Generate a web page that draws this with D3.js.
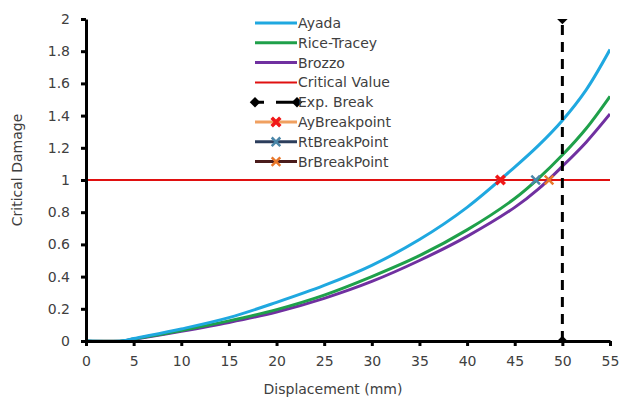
<!DOCTYPE html>
<html>
<head>
<meta charset="utf-8">
<script src="https://cdn.jsdelivr.net/npm/d3@7"></script>
<style>
  body { margin: 0; background: #fff; }
  svg { display: block; font-family: "DejaVu Sans", sans-serif; }
</style>
</head>
<body>
<div id="chart"></div>
<script>
// displacement samples (mm)
var disp = [0, 3.8, 5, 10, 15, 20, 25, 30, 35, 40, 45, 47.5, 50, 52.5, 55];
var ayada      = [0, 0, 0.015, 0.075, 0.145, 0.24, 0.345, 0.47, 0.63, 0.83, 1.08, 1.215, 1.37, 1.56, 1.81];
var riceTracey = [0, 0, 0.012, 0.065, 0.125, 0.195, 0.285, 0.40, 0.53, 0.69, 0.885, 1.01, 1.155, 1.32, 1.52];
var brozzo     = [0, 0, 0.010, 0.060, 0.115, 0.180, 0.265, 0.37, 0.50, 0.65, 0.83, 0.945, 1.085, 1.235, 1.41];

var criticalValue = 1;
var expBreak = 50;
var breakX = [43.5, 47.2, 48.6];   // Ay, Rt, Br

var xTicks = [0, 5, 10, 15, 20, 25, 30, 35, 40, 45, 50, 55];
var yTicks = [0, 0.2, 0.4, 0.6, 0.8, 1, 1.2, 1.4, 1.6, 1.8, 2];

var legendNames = ["Ayada", "Rice-Tracey", "Brozzo", "Critical Value", "Exp. Break", "AyBreakpoint", "RtBreakPoint", "BrBreakPoint"];

var width = 620, height = 398;
var margin = {top: 19, right: 10, bottom: 57, left: 86};

var svg = d3.select("#chart").append("svg")
    .attr("width", width)
    .attr("height", height);

var x = d3.scaleLinear().domain([0, 55]).range([margin.left, 610]);
var y = d3.scaleLinear().domain([0, 2]).range([341, margin.top]);

svg.append("clipPath").attr("id", "plotclip")
  .append("rect")
    .attr("x", x(0)).attr("y", y(2))
    .attr("width", x(55) - x(0)).attr("height", y(0) - y(2));

var plot = svg.append("g").attr("clip-path", "url(#plotclip)");

// critical value line
plot.append("line")
    .attr("x1", x(0)).attr("x2", x(55))
    .attr("y1", y(criticalValue)).attr("y2", y(criticalValue))
    .attr("stroke", "#e01010")
    .attr("stroke-width", 2);

var line = d3.line()
    .x(function(d) { return x(d[0]); })
    .y(function(d) { return y(d[1]); })
    .curve(d3.curveCatmullRom.alpha(0.5));

var series = [
  {vals: brozzo, color: "#7030a0"},
  {vals: riceTracey, color: "#1fa04a"},
  {vals: ayada, color: "#1fa8e0"}
];

series.forEach(function(s) {
  plot.append("path")
      .datum(disp.map(function(d, i) { return [d, s.vals[i]]; }))
      .attr("fill", "none")
      .attr("stroke", s.color)
      .attr("stroke-width", 3)
      .attr("d", line);
});

// experimental break line
plot.append("line")
    .attr("x1", x(expBreak)).attr("x2", x(expBreak))
    .attr("y1", y(0)).attr("y2", y(2))
    .attr("stroke", "#000")
    .attr("stroke-width", 3)
    .attr("stroke-dasharray", "10,7");

var diamond = d3.symbol().type(d3.symbolDiamond2).size(70);
[0, 2].forEach(function(v) {
  plot.append("path")
      .attr("d", diamond)
      .attr("transform", "translate(" + x(expBreak) + "," + y(v) + ")")
      .attr("fill", "#000");
});

// break points
var breakColors = ["#f01818", "#4a86a8", "#e8772a"];
var cross = d3.symbol().type(d3.symbolX).size(50);
breakX.forEach(function(b, i) {
  svg.append("path")
      .attr("d", cross)
      .attr("transform", "translate(" + x(b) + "," + y(criticalValue) + ")")
      .attr("fill", "none")
      .attr("stroke", breakColors[i])
      .attr("stroke-width", i === 0 ? 3.5 : 2.5);
});

// axes
var xAxis = svg.append("g")
    .attr("transform", "translate(0," + y(0) + ")")
    .call(d3.axisBottom(x).tickValues(xTicks).tickSize(5).tickSizeOuter(0).tickPadding(10));

var yAxis = svg.append("g")
    .attr("transform", "translate(" + x(0) + ",0)")
    .call(d3.axisLeft(y).tickValues(yTicks).tickSize(5).tickSizeOuter(0).tickPadding(11)
      .tickFormat(function(d) { return d3.format("")(+d.toFixed(1)); }));

[xAxis, yAxis].forEach(function(a) {
  a.select(".domain").attr("stroke", "#000").attr("stroke-width", 3);
  a.selectAll(".tick line").attr("stroke", "#000").attr("stroke-width", 3);
  a.selectAll(".tick text")
      .attr("fill", "#404040")
      .style("font-size", "14px")
      .style("font-family", "'DejaVu Sans', sans-serif");
});

svg.append("text")
    .attr("x", 333).attr("y", 394)
    .attr("text-anchor", "middle")
    .attr("fill", "#404040")
    .style("font-size", "14px")
    .text("Displacement (mm)");

svg.append("text")
    .attr("transform", "translate(22,170) rotate(-90)")
    .attr("text-anchor", "middle")
    .attr("fill", "#404040")
    .style("font-size", "14px")
    .text("Critical Damage");

// legend
var lx0 = 255, lx1 = 297, ly0 = 23, lstep = 19.8;
var legend = svg.append("g");
var legendLine = ["#1fa8e0", "#1fa04a", "#7030a0", "#e01010", "#000", "#f0a060", "#2c3e5c", "#4a1c1c"];

legendNames.forEach(function(name, i) {
  var yy = ly0 + i * lstep;
  var g = legend.append("g");
  if (i === 4) {
    g.append("line").attr("x1", lx0).attr("x2", lx1).attr("y1", yy).attr("y2", yy)
        .attr("stroke", "#000").attr("stroke-width", 3).attr("stroke-dasharray", "9,12,21");
    [lx0, lx1].forEach(function(px) {
      g.append("path").attr("d", diamond).attr("transform", "translate(" + px + "," + yy + ")").attr("fill", "#000");
    });
  } else {
    g.append("line").attr("x1", lx0).attr("x2", lx1).attr("y1", yy).attr("y2", yy)
        .attr("stroke", legendLine[i]).attr("stroke-width", i === 3 ? 2 : 3);
  }
  if (i > 4) {
    g.append("path").attr("d", cross)
        .attr("transform", "translate(" + ((lx0 + lx1) / 2) + "," + yy + ")")
        .attr("fill", "none").attr("stroke", breakColors[i - 5]).attr("stroke-width", i === 5 ? 3.5 : 2.5);
  }
  g.append("text")
      .attr("x", lx1 + 1).attr("y", yy)
      .attr("dy", "0.35em")
      .attr("fill", "#404040")
      .style("font-size", "14px")
      .text(name);
});
</script>
</body>
</html>
